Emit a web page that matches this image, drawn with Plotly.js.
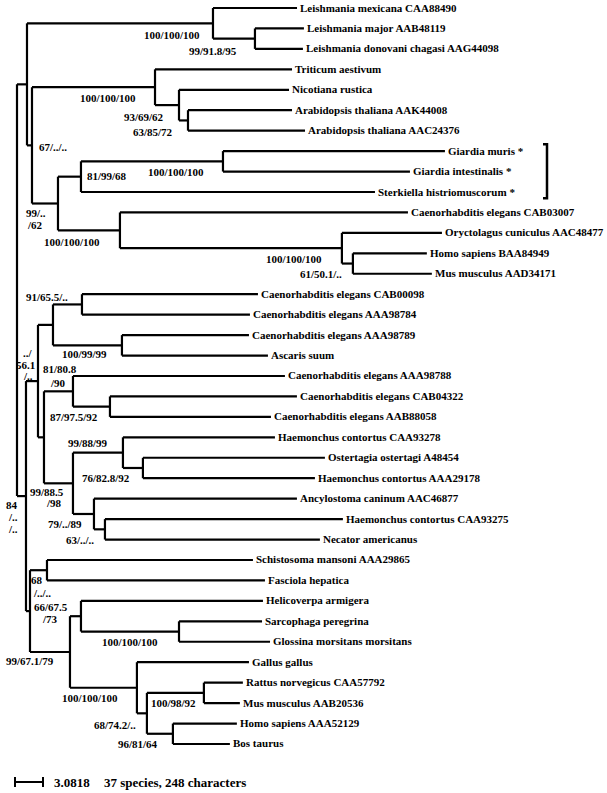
<!DOCTYPE html>
<html>
<head>
<meta charset="utf-8">
<script src="https://cdn.plot.ly/plotly-3.0.1.min.js"></script>
<style>html,body{margin:0;padding:0;background:#fff;}#chart{width:607px;height:793px;}</style>
</head>
<body>
<div id="chart"></div>
<script>
// ---- DATA ----
const nodeIds = [
  "R","A","L1","Leishmania mexicana CAA88490","Lm2","Leishmania major AAB48119","Leishmania donovani chagasi AAG44098",
  "B","P","Triticum aestivum","P2","Nicotiana rustica","P3","Arabidopsis thaliana AAK44008","Arabidopsis thaliana AAC24376",
  "C","G","G2","Giardia muris *","Giardia intestinalis *","Sterkiella histriomuscorum *",
  "D","Caenorhabditis elegans CAB03007","M","Oryctolagus cuniculus AAC48477","M2","Homo sapiens BAA84949","Mus musculus AAD34171",
  "E","F","H","I","Caenorhabditis elegans CAB00098","Caenorhabditis elegans AAA98784",
  "J","Caenorhabditis elegans AAA98789","Ascaris suum",
  "K","K1","Caenorhabditis elegans AAA98788","K2","Caenorhabditis elegans CAB04322","Caenorhabditis elegans AAB88058",
  "N","N1","Haemonchus contortus CAA93278","N2","Ostertagia ostertagi A48454","Haemonchus contortus AAA29178",
  "N3","Ancylostoma caninum AAC46877","N4","Haemonchus contortus CAA93275","Necator americanus",
  "S","S1","Schistosoma mansoni AAA29865","Fasciola hepatica",
  "T","T1","Helicoverpa armigera","T2","Sarcophaga peregrina","Glossina morsitans morsitans",
  "V","Gallus gallus","V1","V2","Rattus norvegicus CAA57792","Mus musculus AAB20536",
  "V3","Homo sapiens AAA52129","Bos taurus"
];
const parentIds = [
  null,"R","A","L1","L1","Lm2","Lm2",
  "A","B","P","P","P2","P2","P3","P3",
  "B","C","G","G2","G2","G",
  "C","D","D","M","M","M2","M2",
  "R","E","F","H","I","I",
  "H","J","J",
  "F","K","K1","K1","K2","K2",
  "K","N","N1","N1","N2","N2",
  "N","N3","N3","N4","N4",
  "E","S","S1","S1",
  "S","T","T1","T1","T2","T2",
  "T","V","V","V1","V2","V2",
  "V1","V3","V3"
];
const branchLengths = [
  0,1.10,20.47,9.25,4.62,5.39,5.28,
  0.55,13.54,15.08,2.64,12.11,0.99,11.45,12.88,
  2.86,2.53,15.63,24.43,20.58,32.36,
  6.82,31.70,24.43,11.01,1.21,8.14,8.69,
  0.99,1.32,1.65,3.19,19.37,18.49,
  7.59,13.98,16.07,
  0.66,3.19,23.33,4.07,20.58,17.72,
  3.19,5.50,16.73,2.20,20.03,18.93,
  2.31,22.34,1.21,26.19,23.66,
  0.44,1.87,22.67,23.99,
  4.40,1.21,20.03,10.79,9.14,10.02,
  7.37,12.33,1.10,6.27,4.29,3.96,
  2.86,7.04,6.27
];
const supportNodes = ["L1","Lm2","P","P2","P3","B","G2","G","C","C","D","M","M2","I","J","F","F","F","K1","K1","K2","N1","N2","N","N","N3","N4","E","E","E","S1","S1","T1","T1","T","T2","V","V2","V1","V3"];
const supportTexts = ["100/100/100","99/91.8/95","100/100/100","93/69/62","63/85/72","67/../..","100/100/100","81/99/68","99/..","/62","100/100/100","100/100/100","61/50.1/..","91/65.5/..","100/99/99","../","56.1","/..","81/80.8","/90","87/97.5/92","99/88/99","76/82.8/92","99/88.5","/98","79/../89","63/../..","84","/..","/..","68","/../..","66/67.5","/73","99/67.1/79","100/100/100","100/100/100","100/98/92","68/74.2/..","96/81/64"];
const scaleBarLength = 3.0818;
const scaleBarLabel = "3.0818";
const footnote = "37 species, 248 characters";

// ---- placement (pixels, not data) ----
const labelOffsets = [[-41,11.7],[-42,12.3],[-47,10.8],[-35,11.9],[-35,11.5],[21,1.6],[-47,10.6],[26,-0.7],[-22,9.8],[-23,21.6],[-48,11.7],[-48,10.8],[-32,10.4],[-35,-7.5],[-37,8.6],[-10,-28.5],[-12,-16.5],[-10,-4.8],[-12.5,-22.8],[-14.5,-8.3],[-36,10.4],[-35,-9.7],[-37,10],[-26,8.4],[-19,20],[-29,10],[-25,10.6],[-14,9.3],[-13,21],[-13,32.7],[-9.5,9.8],[-4.5,22.5],[-29.5,-8.9],[-31,3.1],[-40,9],[-49,10.5],[-47,10.2],[-30.5,10.1],[-32,11.7],[-34.5,10.2]];
const W = 607, Hh = 793;
const rootPx = 17, pxPerUnit = 28 / scaleBarLength;
const leafTop = 8, leafStep = 20.444;

// ---- build tree ----
const children = {}; const xPos = {}; const yPos = {};
nodeIds.forEach(id => children[id] = []);
nodeIds.forEach((id, i) => { if (parentIds[i] !== null) children[parentIds[i]].push(id); });
let leafCounter = 0;
function layoutNode(id, x) {
  xPos[id] = x;
  const ch = children[id];
  if (ch.length === 0) { yPos[id] = leafCounter++; return; }
  ch.forEach(c => layoutNode(c, x + branchLengths[nodeIds.indexOf(c)]));
  yPos[id] = (yPos[ch[0]] + yPos[ch[ch.length - 1]]) / 2;
}
layoutNode("R", 0);

const lx = [], ly = [];
nodeIds.forEach((id, i) => {
  const p = parentIds[i];
  if (p !== null) { lx.push(xPos[p], xPos[id], null); ly.push(yPos[id], yPos[id], null); }
  const ch = children[id];
  if (ch.length) { lx.push(xPos[id], xPos[id], null); ly.push(yPos[ch[0]], yPos[ch[ch.length-1]], null); }
});

const fontFam = "Liberation Serif, Times New Roman, serif";
const annotations = [];
nodeIds.forEach(id => {
  if (children[id].length === 0) {
    annotations.push({x: xPos[id], y: yPos[id], xref:'x', yref:'y', text: '<b>' + id + '</b>', showarrow:false,
      xanchor:'left', yanchor:'middle', xshift: 1, yshift: 0.5, font:{family: fontFam, size: 11, color:'#000'}});
  }
});
supportNodes.forEach((n, i) => {
  annotations.push({x: xPos[n], y: yPos[n], xref:'x', yref:'y', text: '<b>' + supportTexts[i] + '</b>', showarrow:false,
    xanchor:'center', yanchor:'middle', xshift: labelOffsets[i][0], yshift: -labelOffsets[i][1], font:{family: fontFam, size: 11, color:'#000'}});
});

// scale bar
const sbX0 = (15 - rootPx) / pxPerUnit;
const sbY = (782 - leafTop) / leafStep;
const tick = 5 / leafStep;
const sbx = [sbX0, sbX0 + scaleBarLength, null, sbX0, sbX0, null, sbX0 + scaleBarLength, sbX0 + scaleBarLength];
const sby = [sbY, sbY, null, sbY - tick, sbY + tick, null, sbY - tick, sbY + tick];
annotations.push({x: sbX0 + scaleBarLength, y: sbY, xref:'x', yref:'y', text:'<b>' + scaleBarLabel + '</b>', showarrow:false,
  xanchor:'left', yanchor:'middle', xshift: 9, font:{family: fontFam, size: 13, color:'#000'}});
annotations.push({x: sbX0 + scaleBarLength, y: sbY, xref:'x', yref:'y', text:'<b>' + footnote + '</b>', showarrow:false,
  xanchor:'left', yanchor:'middle', xshift: 59, font:{family: fontFam, size: 13, color:'#000'}});

// bracket around starred taxa
const starred = nodeIds.filter(id => id.indexOf('*') >= 0 && children[id].length === 0).map(id => yPos[id]);
const bx = (547 - rootPx) / pxPerUnit, bx2 = (543 - rootPx) / pxPerUnit;
const by0 = Math.min(...starred) - 0.33, by1 = Math.max(...starred) + 0.3;
const shapes = [{type:'path', xref:'x', yref:'y', path:`M ${bx2},${by0} L ${bx},${by0} L ${bx},${by1} L ${bx2},${by1}`, line:{color:'#000', width:2.5}}];

const traces = [
  {x: lx, y: ly, mode:'lines', type:'scatter', line:{color:'#000', width:2.2}, hoverinfo:'skip'},
  {x: sbx, y: sby, mode:'lines', type:'scatter', line:{color:'#000', width:2}, hoverinfo:'skip'}
];
const layout = {
  width: W, height: Hh, margin:{l:0,r:0,t:0,b:0}, paper_bgcolor:'#fff', plot_bgcolor:'#fff', showlegend:false,
  xaxis:{range:[-rootPx / pxPerUnit, (W - rootPx) / pxPerUnit], visible:false, fixedrange:true},
  yaxis:{range:[(Hh - leafTop) / leafStep, -leafTop / leafStep], visible:false, fixedrange:true},
  annotations: annotations, shapes: shapes
};
Plotly.newPlot('chart', traces, layout, {staticPlot:true, displayModeBar:false});
</script>
</body>
</html>
